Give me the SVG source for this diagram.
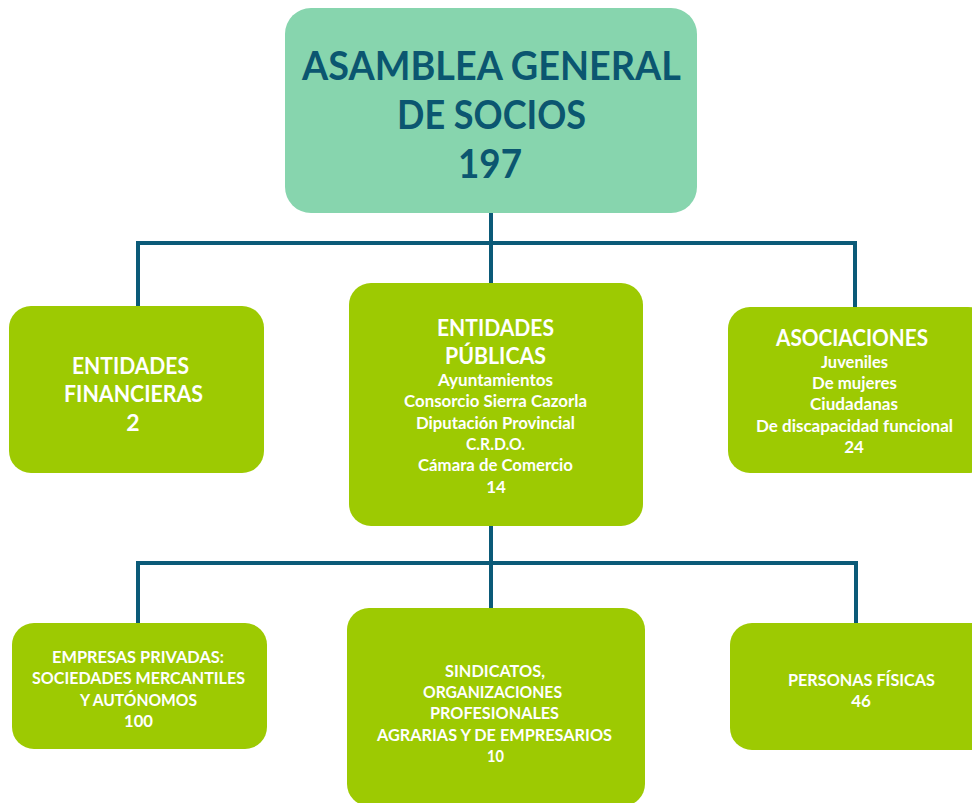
<svg xmlns="http://www.w3.org/2000/svg" width="972" height="803" viewBox="0 0 972 803">
<style>
.top{fill:#87d5ae}
.box{fill:#9dca02}
.conn{fill:none;stroke:#0b5a78;stroke-width:4}
text{font-family:Lato,"Open Sans","Liberation Sans",sans-serif;font-weight:700;text-anchor:middle}
.t1{fill:#0b5670;font-size:40px}
.h{fill:#fff;font-size:23px}
.s{fill:#fff;font-size:17px}
.b{fill:#fff;font-size:17px}
</style>
<rect width="972" height="803" fill="#fff"/>
<g id="connectors">
<path class="conn" d="M491 213V243M138 306V243H855V307M491 243V284"/>
<path class="conn" d="M491 526V563M138 623V563H856V623M491 563V608"/>
</g>
<g id="asamblea">
<rect class="top" x="285" y="8" width="412" height="205" rx="26"/>
<text class="t1" x="491.5" y="80" textLength="379" lengthAdjust="spacingAndGlyphs">ASAMBLEA GENERAL</text>
<text class="t1" x="491.5" y="129" textLength="189" lengthAdjust="spacingAndGlyphs">DE SOCIOS</text>
<text class="t1" x="490" y="178" textLength="64" lengthAdjust="spacingAndGlyphs">197</text>
</g>
<g id="financieras">
<rect class="box" x="9" y="306" width="255" height="167" rx="22"/>
<text class="h" x="130.5" y="374" textLength="117" lengthAdjust="spacingAndGlyphs">ENTIDADES</text>
<text class="h" x="133.5" y="402" textLength="139" lengthAdjust="spacingAndGlyphs">FINANCIERAS</text>
<text class="h" x="133" y="431">2</text>
</g>
<g id="publicas">
<rect class="box" x="349" y="283" width="294" height="243" rx="22"/>
<text class="h" x="495.5" y="336" textLength="117" lengthAdjust="spacingAndGlyphs">ENTIDADES</text>
<text class="h" x="495.5" y="364" textLength="101" lengthAdjust="spacingAndGlyphs">PÚBLICAS</text>
<text class="s" x="495.5" y="386" textLength="115" lengthAdjust="spacingAndGlyphs">Ayuntamientos</text>
<text class="s" x="495.5" y="407" textLength="183" lengthAdjust="spacingAndGlyphs">Consorcio Sierra Cazorla</text>
<text class="s" x="495.5" y="429" textLength="159" lengthAdjust="spacingAndGlyphs">Diputación Provincial</text>
<text class="s" x="495.5" y="450" textLength="59" lengthAdjust="spacingAndGlyphs">C.R.D.O.</text>
<text class="s" x="495.5" y="471" textLength="155" lengthAdjust="spacingAndGlyphs">Cámara de Comercio</text>
<text class="s" x="496" y="493">14</text>
</g>
<g id="asociaciones">
<rect class="box" x="728" y="307" width="262" height="166" rx="22"/>
<text class="h" x="852" y="346" textLength="152" lengthAdjust="spacingAndGlyphs">ASOCIACIONES</text>
<text class="s" x="854.5" y="368" textLength="67" lengthAdjust="spacingAndGlyphs">Juveniles</text>
<text class="s" x="854.5" y="389" textLength="85" lengthAdjust="spacingAndGlyphs">De mujeres</text>
<text class="s" x="854" y="410" textLength="88" lengthAdjust="spacingAndGlyphs">Ciudadanas</text>
<text class="s" x="854.5" y="432" textLength="197" lengthAdjust="spacingAndGlyphs">De discapacidad funcional</text>
<text class="s" x="854" y="453">24</text>
</g>
<g id="empresas">
<rect class="box" x="12" y="623" width="255" height="126" rx="22"/>
<text class="b" x="138" y="663" textLength="172" lengthAdjust="spacingAndGlyphs">EMPRESAS PRIVADAS:</text>
<text class="b" x="138.5" y="684" textLength="213" lengthAdjust="spacingAndGlyphs">SOCIEDADES MERCANTILES</text>
<text class="b" x="138.5" y="706" textLength="117" lengthAdjust="spacingAndGlyphs">Y AUTÓNOMOS</text>
<text class="b" x="138.5" y="727" textLength="29" lengthAdjust="spacingAndGlyphs">100</text>
</g>
<g id="sindicatos">
<rect class="box" x="347" y="608" width="298" height="198" rx="22"/>
<text class="b" x="495" y="677" textLength="100" lengthAdjust="spacingAndGlyphs">SINDICATOS,</text>
<text class="b" x="492.5" y="698" textLength="139" lengthAdjust="spacingAndGlyphs">ORGANIZACIONES</text>
<text class="b" x="494.5" y="719" textLength="129" lengthAdjust="spacingAndGlyphs">PROFESIONALES</text>
<text class="b" x="494.5" y="741" textLength="235" lengthAdjust="spacingAndGlyphs">AGRARIAS Y DE EMPRESARIOS</text>
<text class="b" x="495.5" y="762" textLength="17" lengthAdjust="spacingAndGlyphs">10</text>
</g>
<g id="personas">
<rect class="box" x="730" y="623" width="262" height="127" rx="22"/>
<text class="b" x="861.5" y="686" textLength="147" lengthAdjust="spacingAndGlyphs">PERSONAS FÍSICAS</text>
<text class="b" x="861" y="707">46</text>
</g>
</svg>
